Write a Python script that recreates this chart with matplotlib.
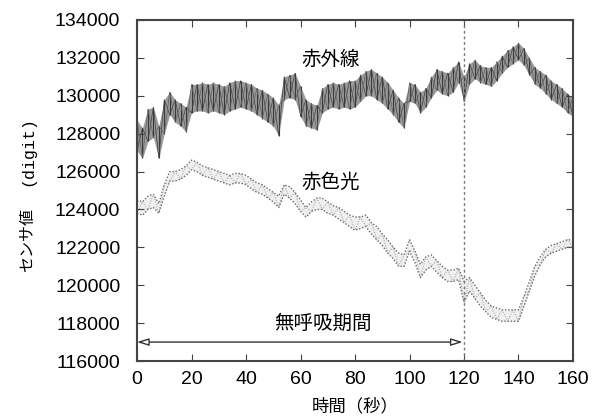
import matplotlib
matplotlib.use("Agg")
import matplotlib.pyplot as plt
import numpy as np

# time samples (s)
t = list(range(0, 161, 2))

# 赤外線 (infrared) band: lower / upper envelope (digit)
ir_lo = [127100, 126700, 127600, 127800, 126700, 128000, 129000, 128600, 128400, 128100,
         129100, 129200, 129200, 129100, 129200, 129100, 129000, 129200, 129300, 129400,
         129300, 129200, 129000, 128800, 128600, 128400, 127900, 129800, 129900, 129800,
         128900, 128400, 128300, 128200, 129100, 129300, 129400, 129300, 129400, 129300,
         129400, 129700, 130000, 130000, 129800, 129600, 129300, 129000, 128600, 128300,
         129700, 129600, 129100, 129400, 129900, 130300, 130100, 130000, 130200, 130700,
         129700, 130600, 130900, 130700, 130600, 130500, 130800, 131200, 131500, 131700,
         131900, 131600, 131100, 130600, 130400, 130100, 129800, 129600, 129400, 129100,
         128900]
ir_hi = [128700, 128300, 129300, 129400, 128400, 129800, 130200, 129800, 129600, 129400,
         130600, 130600, 130700, 130600, 130700, 130600, 130500, 130700, 130800, 130800,
         130700, 130600, 130400, 130300, 130100, 129900, 129500, 131000, 131100, 131200,
         130500, 129800, 129600, 129500, 130400, 130600, 130700, 130600, 130700, 130800,
         130800, 131100, 131300, 131400, 131200, 131000, 130700, 130300, 129900, 129600,
         130700, 130600, 130200, 130400, 131000, 131400, 131300, 131200, 131500, 131800,
         131000, 131700, 131900, 131600, 131500, 131500, 131800, 132100, 132400, 132600,
         132800, 132500, 132000, 131500, 131300, 131100, 130800, 130600, 130400, 130100,
         129900]

# 赤色光 (red light) band: lower / upper envelope (digit)
red_lo = [123800, 123700, 124000, 124100, 123800, 124700, 125500, 125500, 125600, 125800,
          126100, 126000, 125800, 125700, 125600, 125500, 125400, 125300, 125400, 125400,
          125300, 125100, 124900, 124800, 124600, 124400, 124100, 124800, 124600, 124300,
          123900, 123600, 123900, 124000, 124000, 123800, 123700, 123500, 123300, 123100,
          122900, 123000, 123100, 122700, 122400, 122100, 121700, 121400, 121000, 121000,
          121800, 121200, 120400, 120800, 121000, 120700, 120400, 120200, 120200, 120300,
          119100, 119700, 119300, 118900, 118600, 118300, 118200, 118100, 118100, 118100,
          118100, 118900, 119700, 120500, 121100, 121500, 121700, 121800, 121900, 122000,
          122000]
red_hi = [124500, 124400, 124700, 124800, 124300, 125300, 126000, 126000, 126100, 126300,
          126600, 126500, 126300, 126200, 126100, 126000, 125900, 125800, 125900, 125900,
          125800, 125600, 125400, 125300, 125100, 124900, 124700, 125300, 125200, 124900,
          124500, 124100, 124400, 124600, 124600, 124400, 124200, 124100, 123900, 123700,
          123600, 123600, 123700, 123300, 123100, 122700, 122400, 122000, 121700, 121600,
          122400, 121800, 121100, 121500, 121600, 121300, 121000, 120800, 120800, 120900,
          120200, 120400, 120000, 119600, 119200, 118900, 118800, 118700, 118700, 118700,
          118700, 119400, 120200, 121000, 121500, 121900, 122100, 122200, 122300, 122400,
          122400]

x_ticks = [0, 20, 40, 60, 80, 100, 120, 140, 160]
y_ticks = [116000, 118000, 120000, 122000, 124000, 126000, 128000, 130000, 132000, 134000]
apnea_start, apnea_end = 0, 119.5
apnea_y = 117000

jp = ['Noto Sans CJK JP', 'DejaVu Sans']
num = ['Liberation Sans', 'DejaVu Sans']

fig = plt.figure(figsize=(5.96, 4.19), dpi=100)
ax = fig.add_axes([0.2299, 0.1384, 0.7315, 0.8139])

def zigzag(lo, hi):
    return [lo[i] if i % 2 == 0 else hi[i] for i in range(len(lo))]

# infrared band
ax.fill_between(t, ir_lo, ir_hi, color='#9a9a9a', lw=0)
ax.vlines(t, ir_lo, ir_hi, color='#3a3a3a', lw=0.8)
ax.plot(t, zigzag(ir_lo, ir_hi), color='#404040', lw=0.5)
ax.plot(t, zigzag(ir_hi, ir_lo), color='#606060', lw=0.5)

# red light band
ax.fill_between(t, red_lo, red_hi, color='#efefef', lw=0)
ax.plot(t, red_lo, color='#6a6a6a', lw=1.0, ls=(0, (1, 1.3)))
ax.plot(t, red_hi, color='#6a6a6a', lw=1.0, ls=(0, (1, 1.3)))
ax.plot(t, zigzag(red_lo, red_hi), color='#999999', lw=0.7, ls=(0, (1, 1.6)))

# apnea marker
ax.axvline(120, color='#777777', lw=1.0, ls=(0, (2, 2)))
ax.annotate('', xy=(apnea_start, apnea_y), xytext=(apnea_end, apnea_y),
            arrowprops=dict(arrowstyle='<|-|>,head_length=0.7,head_width=0.22',
                            fc='white', ec='#333333', lw=1.0, shrinkA=0, shrinkB=0))
ax.text(68.3, 117980, '無呼吸期間', family=jp, fontsize=14, ha='center', va='center')
ax.text(71.2, 131940, '赤外線', family=jp, fontsize=14, ha='center', va='center')
ax.text(71.2, 125450, '赤色光', family=jp, fontsize=14, ha='center', va='center')

ax.set_xlim(0, 160)
ax.set_ylim(116000, 134000)
ax.set_xticks(x_ticks)
ax.set_yticks(y_ticks)
ax.set_xticklabels([str(v) for v in x_ticks], family=num, fontsize=14)
ax.set_yticklabels([str(v) for v in y_ticks], family=num, fontsize=14)
ax.tick_params(direction='in', length=5, width=0.8, color='#444444',
               top=True, right=True)
ax.tick_params(axis='y', pad=12)
ax.tick_params(axis='x', pad=7)
for s in ax.spines.values():
    s.set_linewidth(1.5)
    s.set_color('#444444')

ax.set_xlabel('時間（秒）', family=jp, fontsize=12.5, labelpad=7)
fig.text(0.047, 0.427, 'センサ値', family=jp, fontsize=11.5, rotation=90,
         ha='center', va='center')
fig.text(0.047, 0.640, '(digit)', family=['Liberation Mono', 'DejaVu Sans Mono'],
         fontsize=12, rotation=90, ha='center', va='center')

fig.savefig('out.png', dpi=100)
